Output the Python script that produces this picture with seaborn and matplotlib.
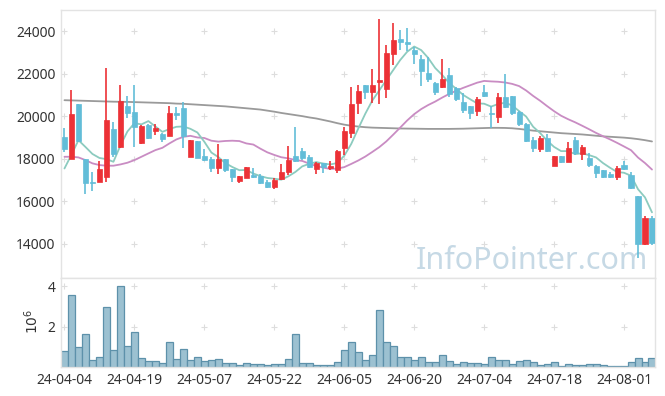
import numpy as np
import pandas as pd
import matplotlib
matplotlib.use('Agg')
import matplotlib.pyplot as plt
import seaborn as sns

# KRX trading days, 2024-04-04 .. 2024-08-07
holidays = ['2024-04-10', '2024-05-01', '2024-05-06', '2024-05-15', '2024-06-06']
dates = pd.bdate_range('2024-04-04', '2024-08-07', freq='C', holidays=holidays)

opens = [19037, 17990, 20573, 17976, 16900, 16925, 17160, 19399, 18568, 20479,
         20197, 18727, 19587, 19305, 19164, 19085, 20136, 20371, 18099, 18836,
         18131, 17990, 17553, 17976, 17521, 16972, 17084, 17253, 17192, 16925,
         16690, 17065, 17380, 18131, 18366, 18070, 17507, 17789, 17582, 17474,
         18521, 19197, 20634, 21465, 21150, 21620, 21263, 22953, 23624, 23498,
         23108, 22718, 22061, 21591, 21385, 21934, 21310, 20653, 20479, 20258,
         21122, 20160, 19976, 20887, 20948, 20211, 19620, 18883, 18460, 18990,
         17676, 18131, 17864, 18883, 18225, 18052, 17676, 17474, 17272, 17160,
         17709, 17239, 16253, 14000, 15235]
highs = [19446, 21230, 20600, 18000, 17394, 17910, 22296, 19728, 21465, 20962,
         21465, 19600, 19620, 19620, 19200, 20479, 20446, 20652, 18900, 18850,
         18446, 18100, 18680, 18000, 17530, 17200, 17610, 17553, 17300, 17000,
         17084, 17742, 18600, 19479, 18521, 18200, 17864, 17800, 17900, 18400,
         19507, 21357, 21465, 21470, 22249, 24596, 23343, 24408, 24080, 24174,
         23263, 22900, 22793, 21600, 22718, 22296, 21400, 21075, 20500, 20887,
         21465, 20479, 21103, 21981, 20960, 20250, 19700, 19037, 19080, 19150,
         18131, 18140, 18803, 19037, 18648, 18258, 17690, 17480, 17394, 17676,
         17897, 17394, 16260, 15314, 15314]
lows = [18333, 17986, 18800, 16333, 16500, 16900, 16925, 18099, 18493, 19901,
        18568, 18680, 18950, 19117, 18803, 19085, 19822, 18493, 18099, 18052,
        17882, 17394, 17286, 17394, 16925, 16850, 17084, 17084, 16803, 16615,
        16582, 17004, 17239, 17836, 17943, 17550, 17286, 17319, 17474, 17319,
        18178, 18962, 20089, 20793, 20606, 20573, 20840, 22404, 23108, 23075,
        22484, 21418, 21620, 20995, 21340, 20915, 20727, 20136, 19868, 20009,
        20900, 19460, 19695, 20371, 20056, 19540, 18774, 18333, 18333, 18333,
        17676, 17789, 17840, 18178, 17943, 17630, 17084, 17084, 17084, 17004,
        17460, 16570, 13329, 13970, 13953]
closes = [18460, 20103, 18836, 16877, 16880, 17521, 19822, 18225, 20713, 20164,
          19479, 19540, 18990, 19432, 18915, 20136, 20070, 19070, 18883, 18052,
          17943, 17553, 17990, 17474, 17131, 17192, 17601, 17160, 16877, 16690,
          17004, 17380, 17943, 17896, 18023, 17600, 17789, 17600, 17676, 18366,
          19305, 20573, 21197, 21150, 21465, 21700, 22981, 23577, 23516, 23423,
          22920, 22136, 21746, 21150, 21779, 21028, 20793, 20291, 20136, 20807,
          20948, 20120, 20887, 20446, 20164, 19620, 18850, 18493, 18962, 18380,
          18131, 17864, 18493, 18258, 18568, 17709, 17319, 17160, 17160, 17582,
          17521, 16615, 14000, 15235, 14060]
volumes = [0.80, 3.56, 1.03, 1.64, 0.36, 0.51, 2.95, 0.85, 4.00, 1.08,
           1.74, 0.46, 0.31, 0.31, 0.21, 1.25, 0.41, 0.90, 0.36, 0.51,
           0.31, 0.36, 0.41, 0.21, 0.21, 0.11, 0.21, 0.16, 0.16, 0.11,
           0.16, 0.16, 0.41, 1.64, 0.21, 0.21, 0.11, 0.11, 0.11, 0.26,
           0.88, 1.25, 0.75, 0.36, 0.61, 2.81, 1.25, 1.05, 0.51, 0.51,
           0.36, 0.51, 0.26, 0.26, 0.61, 0.31, 0.16, 0.26, 0.21, 0.21,
           0.16, 0.51, 0.36, 0.36, 0.16, 0.31, 0.36, 0.26, 0.11, 0.16,
           0.26, 0.06, 0.16, 0.11, 0.11, 0.16, 0.16, 0.11, 0.06, 0.06,
           0.06, 0.26, 0.46, 0.26, 0.46]  # millions

# moving-average values before enough history is on the chart
ma5_head = [17550, 18200, 18880, 18560]
ma20_head = [18100, 18100, 18070, 17943, 17790, 17710, 17680, 17680, 17740, 17820,
             17943, 18100, 18258, 18413, 18521, 18727, 18915, 19037, 19085]
ma60 = [20760, 20750, 20740, 20730, 20720, 20710, 20700, 20690, 20685, 20680,
        20670, 20660, 20650, 20640, 20630, 20620, 20600, 20590, 20570, 20550,
        20530, 20510, 20490, 20470, 20440, 20410, 20380, 20350, 20320, 20270,
        20220, 20160, 20110, 20060, 20010, 19950, 19900, 19830, 19760, 19680,
        19610, 19560, 19520, 19490, 19470, 19460, 19450, 19440, 19430, 19425,
        19420, 19415, 19410, 19410, 19410, 19410, 19415, 19420, 19430, 19440,
        19450, 19460, 19460, 19455, 19440, 19410, 19370, 19330, 19300, 19270,
        19240, 19210, 19190, 19170, 19150, 19120, 19090, 19060, 19040, 19020,
        19000, 18970, 18930, 18880, 18820]

df = pd.DataFrame({'open': opens, 'high': highs, 'low': lows, 'close': closes,
                   'volume': np.array(volumes) * 1e6})
df['i'] = np.arange(len(df))
df['ma5'] = df['close'].rolling(5).mean()
df.loc[:3, 'ma5'] = ma5_head
df['ma20'] = df['close'].rolling(20).mean()
df.loc[:18, 'ma20'] = ma20_head
df['ma60'] = ma60

sns.set_theme(style='white')
plt.rcParams['font.family'] = ['Noto Sans', 'DejaVu Sans']

fig = plt.figure(figsize=(6.65, 3.96), dpi=100)
ax1 = fig.add_axes([0.0917, 0.298, 0.894, 0.6767])
ax2 = fig.add_axes([0.0917, 0.072, 0.894, 0.226])

up = df['close'] > df['open']
colors = np.where(up, '#ec3136', '#62bdd8')

# moving averages
sns.lineplot(data=df, x='i', y='ma60', color='#9a9a9a', lw=1.3, ax=ax1)
sns.lineplot(data=df, x='i', y='ma20', color='#c98cc3', lw=1.3, ax=ax1)
sns.lineplot(data=df, x='i', y='ma5', color='#8ccbbf', lw=1.3, ax=ax1)

# candles
ax1.vlines(df['i'], df['low'], df['high'], colors=colors, lw=1.2, zorder=3)
body_lo = df[['open', 'close']].min(axis=1)
body_h = (df['close'] - df['open']).abs()
ax1.bar(df['i'], body_h, bottom=body_lo, width=0.72, color=colors,
        edgecolor=colors, linewidth=0.5, zorder=4)

# volume
sns.barplot(x=df['i'], y=df['volume'], color='#9cc1d1', saturation=1, width=1.0,
            edgecolor='#5d91aa', linewidth=0.9, ax=ax2)

tick_pos = list(range(0, len(df), 10))
tick_lab = [dates[p].strftime('%y-%m-%d') for p in tick_pos]
price_ticks = [14000, 16000, 18000, 20000, 22000, 24000]
vol_ticks = [2e6, 4e6]

for ax in (ax1, ax2):
    ax.set_xlim(-0.5, len(df) - 0.5)
    ax.set_xlabel('')
    ax.set_ylabel('')
    ax.tick_params(length=0, labelsize=10, colors='#333333', pad=4)
    for s in ax.spines.values():
        s.set_color('#e3e3e3')
        s.set_linewidth(1)

ax1.set_ylim(12400, 25000)
ax1.set_yticks(price_ticks)
ax1.set_xticks(tick_pos)
ax1.set_xticklabels([])
gx, gy = np.meshgrid(tick_pos, price_ticks)
ax1.scatter(gx.ravel(), gy.ravel(), marker='+', s=14, color='#dddddd', lw=0.8, zorder=1)

ax2.set_ylim(0, 4.4e6)
ax2.set_yticks(vol_ticks)
ax2.set_yticklabels(['2', '4'])
ax2.set_xticks(tick_pos)
ax2.set_xticklabels(tick_lab)
gx, gy = np.meshgrid(tick_pos, vol_ticks)
ax2.scatter(gx.ravel(), gy.ravel(), marker='+', s=14, color='#dddddd', lw=0.8, zorder=0)

fig.text(33 / 665, 1 - 321 / 396, r'$10^6$', rotation=90, ha='center', va='center',
         fontsize=10, color='#333333')

ax1.text(0.988, 0.035, 'InfoPointer.com', transform=ax1.transAxes, ha='right',
         va='baseline', fontsize=22, color='#c6d9e5', zorder=0)

fig.savefig('out.png', dpi=100)
